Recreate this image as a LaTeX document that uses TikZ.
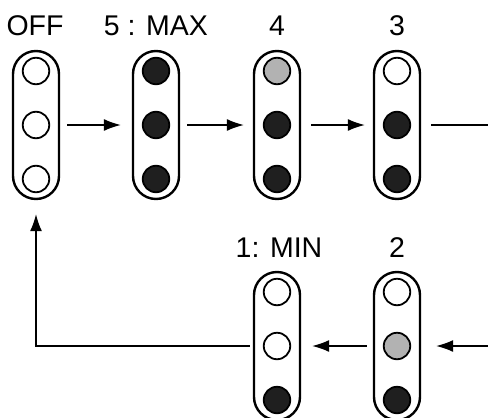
\documentclass[tikz,border=0pt]{standalone}
\usepackage{fontspec}
\setmainfont{Liberation Sans}
\usetikzlibrary{arrows.meta}
\begin{document}
\begin{tikzpicture}[x=1pt,y=-1pt,
 capsule/.style={draw,line width=2.4pt,rounded corners=23pt,minimum width=46pt,minimum height=148pt,inner sep=0pt},
 lamp/.style={circle,draw,line width=1.8pt,minimum size=26.5pt,inner sep=0pt},
 lampoff/.style={lamp,fill=white},
 lampon/.style={lamp,fill=black!88},
 lampdim/.style={lamp,fill=black!30},
 lbl/.style={font=\fontsize{28.5}{28.5}\selectfont,anchor=base},
 conn/.style={line width=1.3pt,-{Latex[length=17pt,width=12pt]}}
]
\useasboundingbox (0,0) rectangle (488,418);
% top row capsules
\node[capsule] (off) at (36,125) {};
\node[capsule] (max) at (156,125) {};
\node[capsule] (four) at (277,125) {};
\node[capsule] (three) at (397,125) {};
% bottom row capsules
\node[capsule] (min) at (277,346) {};
\node[capsule] (two) at (397,346) {};
% lamps
\node[lampoff] (off1) at (36,71) {};
\node[lampoff] (off2) at (36,125) {};
\node[lampoff] (off3) at (36,179) {};
\node[lampon] (max1) at (156,71) {};
\node[lampon] (max2) at (156,125) {};
\node[lampon] (max3) at (156,179) {};
\node[lampdim] (four1) at (277,71) {};
\node[lampon] (four2) at (277,125) {};
\node[lampon] (four3) at (277,179) {};
\node[lampoff] (three1) at (397,71) {};
\node[lampon] (three2) at (397,125) {};
\node[lampon] (three3) at (397,179) {};
\node[lampoff] (min1) at (277,292) {};
\node[lampoff] (min2) at (277,346) {};
\node[lampon] (min3) at (277,400) {};
\node[lampoff] (two1) at (397,292) {};
\node[lampdim] (two2) at (397,346) {};
\node[lampon] (two3) at (397,400) {};
% labels
\node[lbl] (loff) at (35,35) {OFF};
\node[lbl] (lmax) at (156,35) {5 : MAX};
\node[lbl] (lfour) at (277,35) {4};
\node[lbl] (lthree) at (397,35) {3};
\node[lbl] (lmin) at (279,257) {1: MIN};
\node[lbl] (ltwo) at (397,257) {2};
% connectors
\coordinate (redge) at (488,125);
\coordinate (redge2) at (488,346);
\draw[conn,shorten <=7pt,shorten >=11pt] (off) -- (max);
\draw[conn,shorten <=7pt,shorten >=9pt] (max) -- (four);
\draw[conn,shorten <=10pt,shorten >=8pt] (four) -- (three);
\draw[line width=1.3pt,shorten <=10pt] (three.east) -- (redge);
\draw[conn,shorten >=15pt] (redge2) -- (two.east);
\draw[conn,shorten <=6pt,shorten >=11pt] (two) -- (min);
\draw[conn,shorten <=3pt,shorten >=14pt] (min.west) -| (off.south);
\end{tikzpicture}
\end{document}
